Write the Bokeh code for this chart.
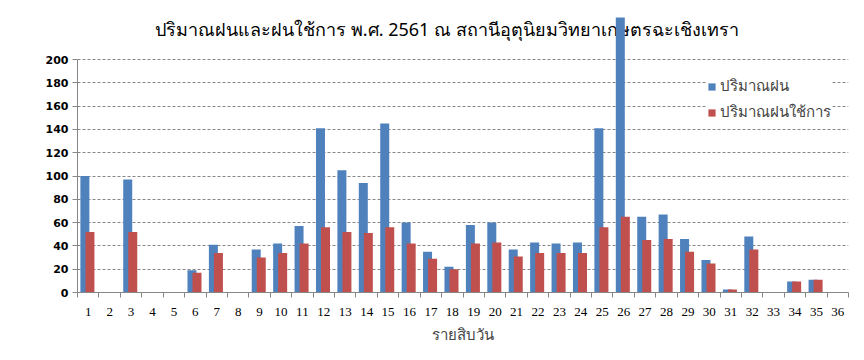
from bokeh.plotting import figure
from bokeh.models import (ColumnDataSource, FixedTicker, Range1d, Legend, LegendItem, Label)
from bokeh.transform import dodge
from bokeh.embed import file_html
from bokeh.resources import INLINE

# ---- data ----
periods = list(range(1, 37))
rain = [100, 0, 97, 0, 0, 19, 41, 0, 37, 42, 57, 141, 105, 94, 145, 60, 35, 22,
        58, 60, 37, 43, 42, 43, 141, 236, 65, 67, 46, 28, 2.5, 48, 0, 9.5, 11, 0]
eff_rain = [52, 0, 52, 0, 0, 17, 34, 0, 30, 34, 42, 56, 52, 51, 56, 42, 29, 20,
            42, 43, 31, 34, 34, 34, 56, 65, 45, 46, 35, 25, 2.5, 37, 0, 9.5, 11, 0]
y_ticks = [0, 20, 40, 60, 80, 100, 120, 140, 160, 180, 200]

title_text = "ปริมาณฝนและฝนใช้การ พ.ศ. 2561 ณ สถานีอุตุนิยมวิทยาเกษตรฉะเชิงเทรา"
series_names = ["ปริมาณฝน", "ปริมาณฝนใช้การ"]
x_label = "รายสิบวัน"
y_label = "มิลลิเมตร"

BLUE = "#4F81BD"
RED = "#C0504D"
GRAY = "#868686"
THAI_FONT = "Noto Sans"

src = ColumnDataSource(dict(x=periods, rain=rain, eff=eff_rain))

W, H = 856, 352
PX_PER_UNIT = 233 / 200.0
frame_h = 292
y_top = frame_h / PX_PER_UNIT

p = figure(width=W, height=H, output_backend="svg", toolbar_location=None,
           x_range=Range1d(0.5, 36.5), y_range=Range1d(0, y_top),
           min_border_left=77, min_border_right=8, min_border_top=0,
           min_border_bottom=60)
p.outline_line_color = None
p.background_fill_color = "white"
p.border_fill_color = "white"

r1 = p.vbar(x=dodge("x", -0.155, range=p.x_range), top="rain", width=0.42,
            source=src, fill_color=BLUE, line_color=None)
r2 = p.vbar(x=dodge("x", 0.08, range=p.x_range), top="eff", width=0.42,
            source=src, fill_color=RED, line_color=None)

# x axis: labels at centres, tick marks at boundaries
xa = p.xaxis[0]
xa.ticker = FixedTicker(ticks=periods, minor_ticks=[i + 0.5 for i in range(0, 37)])
xa.major_tick_out = 0
xa.major_tick_in = 0
xa.minor_tick_out = 5
xa.minor_tick_in = 0
xa.minor_tick_line_color = GRAY
xa.axis_line_color = GRAY
xa.major_label_text_font = "Liberation Serif"
xa.major_label_text_font_size = "13px"
xa.major_label_text_color = "black"
xa.major_label_standoff = 10
xa.axis_label = x_label
xa.axis_label_text_font = THAI_FONT
xa.axis_label_text_font_size = "15px"
xa.axis_label_text_font_style = "normal"
xa.axis_label_standoff = 5

ya = p.yaxis[0]
ya.ticker = FixedTicker(ticks=y_ticks)
ya.bounds = (0, 200)
ya.major_tick_out = 5
ya.major_tick_in = 0
ya.minor_tick_out = 0
ya.minor_tick_in = 0
ya.major_tick_line_color = GRAY
ya.axis_line_color = GRAY
ya.major_label_text_font = "DejaVu Sans"
ya.major_label_text_font_style = "bold"
ya.major_label_text_font_size = "11px"
ya.major_label_text_color = "black"
ya.major_label_standoff = 4

p.xgrid.grid_line_color = None
p.ygrid.grid_line_color = GRAY
p.ygrid.grid_line_dash = "3 2"
p.ygrid.ticker = FixedTicker(ticks=y_ticks[1:])

# y axis title as rotated label centred on the 0-200 span
p.add_layout(Label(x=-1.6, y=100, text=y_label, angle=1.5708,
                   text_font=THAI_FONT, text_font_size="13px", text_font_style="bold",
                   text_align="center", text_baseline="middle"))

# chart title (drawn under the bars, as in the original)
p.add_layout(Label(x=17.75, y=226, text=title_text, level="underlay",
                   text_font=THAI_FONT, text_font_size="18px",
                   text_align="center", text_baseline="middle", text_color="black"))

legend = Legend(items=[LegendItem(label=series_names[0], renderers=[r1]),
                       LegendItem(label=series_names[1], renderers=[r2])],
                location=(630, 168), border_line_color=None,
                background_fill_color="white", background_fill_alpha=1.0,
                glyph_width=9, glyph_height=9, label_standoff=4, spacing=2,
                label_height=18, padding=4, margin=0,
                label_text_font=THAI_FONT, label_text_font_size="15px")
p.add_layout(legend)

open("out.html", "w").write(file_html(p, INLINE))
